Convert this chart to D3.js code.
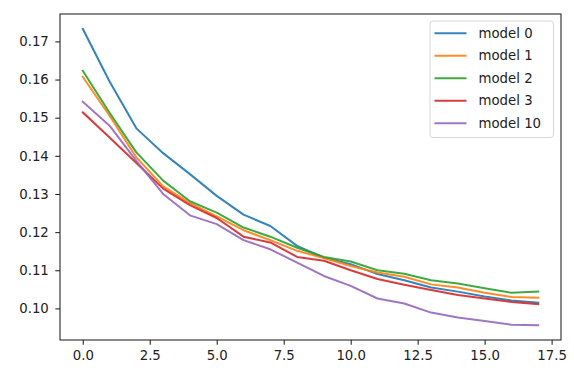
<!DOCTYPE html>
<html>
<head>
<meta charset="utf-8">
<script src="https://cdn.jsdelivr.net/npm/d3@7"></script>
<style>
    body { margin: 0; background: #fff; }
    text { font-family: "DejaVu Sans", sans-serif; }
</style>
</head>
<body>
<div id="chart"></div>
<script>
// epochs on the x axis
var epochs = [0, 1, 2, 3, 4, 5, 6, 7, 8, 9, 10, 11, 12, 13, 14, 15, 16, 17];

var seriesNames = ["model 0", "model 1", "model 2", "model 3", "model 10"];
var seriesColors = ["#1f77b4", "#ff7f0e", "#2ca02c", "#d62728", "#9467bd"];

var model0 = [0.1733, 0.1595, 0.1472, 0.1407, 0.1352, 0.1295, 0.1246, 0.1216, 0.1164, 0.1133, 0.1116, 0.1090, 0.1074, 0.1055, 0.1044, 0.1031, 0.1021, 0.1015];
var model1 = [0.1607, 0.1505, 0.1396, 0.1320, 0.1276, 0.1241, 0.1205, 0.1179, 0.1151, 0.1132, 0.1111, 0.1094, 0.1083, 0.1063, 0.1055, 0.1041, 0.1030, 0.1028];
var model2 = [0.1623, 0.1513, 0.1409, 0.1335, 0.1281, 0.1251, 0.1212, 0.1188, 0.1159, 0.1135, 0.1123, 0.1100, 0.1091, 0.1074, 0.1065, 0.1053, 0.1041, 0.1044];
var model3 = [0.1514, 0.1448, 0.1381, 0.1314, 0.1271, 0.1237, 0.1188, 0.1173, 0.1135, 0.1125, 0.1100, 0.1077, 0.1062, 0.1048, 0.1035, 0.1026, 0.1017, 0.1011];
var model10 = [0.1542, 0.1479, 0.1387, 0.1300, 0.1244, 0.1221, 0.1179, 0.1155, 0.1120, 0.1085, 0.1059, 0.1026, 0.1013, 0.0989, 0.0976, 0.0967, 0.0957, 0.0956];

var xTicks = [0, 2.5, 5, 7.5, 10, 12.5, 15, 17.5];
var yTicks = [0.10, 0.11, 0.12, 0.13, 0.14, 0.15, 0.16, 0.17];

var allSeries = [model0, model1, model2, model3, model10];

var chart = {
    width: 574,
    height: 379,
    left: 60,
    top: 14,
    right: 561,
    bottom: 340
};

var svg = d3.select("#chart")
    .append("svg")
    .attr("width", chart.width)
    .attr("height", chart.height);

// matplotlib style 5% margins around the data
var xPad = (d3.max(epochs) - d3.min(epochs)) * 0.05;
var x = d3.scaleLinear()
    .domain([d3.min(epochs) - xPad, d3.max(epochs) + xPad])
    .range([chart.left, chart.right]);

var yMin = d3.min(allSeries, function (s) { return d3.min(s); });
var yMax = d3.max(allSeries, function (s) { return d3.max(s); });
var yPad = (yMax - yMin) * 0.05;
var y = d3.scaleLinear()
    .domain([yMin - yPad, yMax + yPad])
    .range([chart.bottom, chart.top]);

var line = d3.line()
    .x(function (d, i) { return x(epochs[i]); })
    .y(function (d) { return y(d); });

// lines
svg.selectAll("path.series")
    .data(allSeries)
    .enter()
    .append("path")
    .attr("class", "series")
    .attr("d", line)
    .attr("fill", "none")
    .attr("stroke", function (d, i) { return seriesColors[i]; })
    .attr("stroke-width", 2)
    .attr("stroke-opacity", 0.9)
    .attr("stroke-linejoin", "round")
    .attr("stroke-linecap", "square");

// axes
var xAxis = svg.append("g")
    .attr("transform", "translate(0," + chart.bottom + ")")
    .call(d3.axisBottom(x).tickValues(xTicks).tickFormat(d3.format(".1f")).tickSize(4.7).tickPadding(5.5));

var yAxis = svg.append("g")
    .attr("transform", "translate(" + chart.left + ",0)")
    .call(d3.axisLeft(y).tickValues(yTicks).tickFormat(d3.format(".2f")).tickSize(4.7).tickPadding(6.5));

[xAxis, yAxis].forEach(function (g) {
    g.select(".domain").remove();
    g.selectAll("line").attr("stroke", "#222").attr("stroke-width", 1.07);
    g.selectAll("text")
        .attr("fill", "#222")
        .style("font-size", "13.3px")
        .style("font-family", "'DejaVu Sans', sans-serif");
});

// frame
svg.append("rect")
    .attr("x", chart.left)
    .attr("y", chart.top)
    .attr("width", chart.right - chart.left)
    .attr("height", chart.bottom - chart.top)
    .attr("fill", "none")
    .attr("stroke", "#222")
    .attr("stroke-width", 1.07);

// legend
var legend = svg.append("g").attr("transform", "translate(430,21)");
legend.append("rect")
    .attr("width", 123.5)
    .attr("height", 116.5)
    .attr("rx", 3)
    .attr("fill", "#fff")
    .attr("fill-opacity", 0.8)
    .attr("stroke", "#d6d6d6")
    .attr("stroke-width", 1);

var items = legend.selectAll("g.item")
    .data(seriesNames)
    .enter()
    .append("g")
    .attr("class", "item")
    .attr("transform", function (d, i) { return "translate(0," + (12.3 + i * 22.5) + ")"; });

items.append("line")
    .attr("x1", 4.5)
    .attr("x2", 36.5)
    .attr("stroke", function (d, i) { return seriesColors[i]; })
    .attr("stroke-opacity", 0.9)
    .attr("stroke-width", 2);

items.append("text")
    .attr("x", 48.5)
    .attr("dy", "0.35em")
    .attr("fill", "#222")
    .style("font-size", "13.3px")
    .text(function (d) { return d; });
</script>
</body>
</html>
